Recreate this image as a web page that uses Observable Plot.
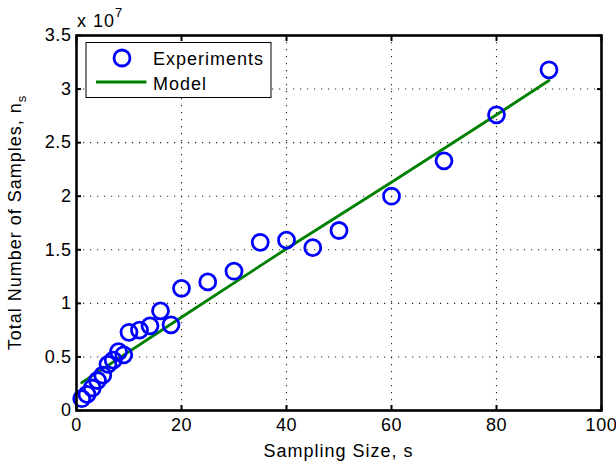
<!DOCTYPE html>
<html>
<head>
<meta charset="utf-8">
<script src="https://cdn.jsdelivr.net/npm/d3@7"></script>
<script src="https://cdn.jsdelivr.net/npm/@observablehq/plot@0.6"></script>
<style>
  html, body { margin: 0; padding: 0; background: white; }
  #chart { width: 616px; height: 471px; }
</style>
</head>
<body>
<div id="chart"></div>
<script>
// Experiments: sampling size s and total number of samples n_s
const sizes = [1, 2, 3, 4, 5, 6, 7, 8, 9, 10, 12, 14, 16, 18, 20, 25, 30, 35, 40, 45, 50, 60, 70, 80, 90];
const samples = [1.1e6, 1.5e6, 2.1e6, 2.8e6, 3.3e6, 4.3e6, 4.7e6, 5.5e6, 5.2e6, 7.3e6, 7.5e6, 7.9e6, 9.3e6, 8.0e6,
                 1.14e7, 1.20e7, 1.30e7, 1.57e7, 1.59e7, 1.52e7, 1.68e7, 2.00e7, 2.33e7, 2.76e7, 3.18e7];
// Model curve
const modelSizes = [1, 20, 40, 60, 80, 90];
const modelSamples = [2.6e6, 8.7e6, 1.51e7, 2.13e7, 2.76e7, 3.08e7];
// Axis ticks
const xTicks = [0, 20, 40, 60, 80, 100];
const yTicks = [0, 0.5e7, 1e7, 1.5e7, 2e7, 2.5e7, 3e7, 3.5e7];

const experiments = sizes.map((s, i) => ({s, n: samples[i]}));
const model = modelSizes.map((s, i) => ({s, n: modelSamples[i]}));

const font = "'Liberation Sans', Arial, Helvetica, sans-serif";
const gridStyle = {stroke: "#000", strokeOpacity: 0.85, strokeWidth: 1.1, strokeDasharray: "1.2,5.8"};
const tickStyle = {stroke: "#000", strokeWidth: 2, text: null, label: null};

const svg = Plot.plot({
  width: 616,
  height: 471,
  marginLeft: 76,
  marginRight: 15,
  marginTop: 35,
  marginBottom: 61,
  style: {fontFamily: font, fontSize: "18px", color: "#000", background: "white", letterSpacing: "0.6px"},
  x: {domain: [0, 100]},
  y: {domain: [0, 3.5e7]},
  marks: [
    Plot.gridX(xTicks, gridStyle),
    Plot.gridY(yTicks, gridStyle),
    Plot.axisX(xTicks, {anchor: "bottom", tickSize: 0, tickPadding: 8, label: null, tickFormat: d => String(d)}),
    Plot.axisY(yTicks, {anchor: "left", tickSize: 0, tickPadding: 5, label: null, tickFormat: d => String(d / 1e7)}),
    Plot.axisX(xTicks, {anchor: "bottom", tickSize: -5, ...tickStyle}),
    Plot.axisX(xTicks, {anchor: "top", tickSize: -5, ...tickStyle}),
    Plot.axisY(yTicks, {anchor: "left", tickSize: -5, ...tickStyle}),
    Plot.axisY(yTicks, {anchor: "right", tickSize: -5, ...tickStyle}),
    Plot.line(model, {x: "s", y: "n", stroke: "#008000", strokeWidth: 2.8}),
    Plot.dot(experiments, {x: "s", y: "n", r: 8, stroke: "#0000ff", strokeWidth: 2.8}),
    Plot.frame({stroke: "#000", strokeWidth: 2.6})
  ]
});

const sel = d3.select(svg);
sel.style("overflow", "visible");

// Exponent label
const expo = sel.append("text").attr("x", 77).attr("y", 27).attr("text-anchor", "start")
  .attr("font-family", font).attr("font-size", 18).attr("letter-spacing", "1px").attr("fill", "#000");
expo.append("tspan").text("x 10");
expo.append("tspan").attr("dy", -10).attr("font-size", 13).text("7");

// Axis titles
sel.append("text").attr("x", 338.5).attr("y", 457).attr("text-anchor", "middle")
  .attr("font-family", font).attr("font-size", 18).attr("letter-spacing", "1px").attr("fill", "#000")
  .text("Sampling Size, s");

const yl = sel.append("text").attr("transform", "translate(21,222.5) rotate(-90)").attr("text-anchor", "middle")
  .attr("font-family", font).attr("font-size", 18).attr("letter-spacing", "1px").attr("fill", "#000");
yl.append("tspan").text("Total Number of Samples, n");
yl.append("tspan").attr("dy", 5).attr("font-size", 13).text("s");

// Legend
const lg = sel.append("g").attr("font-family", font).attr("font-size", 18)
  .attr("letter-spacing", "1px").attr("text-anchor", "start");
lg.append("rect").attr("x", 86).attr("y", 42.5).attr("width", 185).attr("height", 55)
  .attr("fill", "white").attr("stroke", "#000").attr("stroke-width", 1);
lg.append("circle").attr("cx", 122).attr("cy", 58).attr("r", 8)
  .attr("fill", "none").attr("stroke", "#0000ff").attr("stroke-width", 2.8);
lg.append("line").attr("x1", 96).attr("x2", 146.5).attr("y1", 82).attr("y2", 82)
  .attr("stroke", "#008000").attr("stroke-width", 2.8);
lg.append("text").attr("x", 153).attr("y", 65).attr("fill", "#000").text("Experiments");
lg.append("text").attr("x", 153).attr("y", 90).attr("fill", "#000").text("Model");

document.getElementById("chart").appendChild(svg);
</script>
</body>
</html>
